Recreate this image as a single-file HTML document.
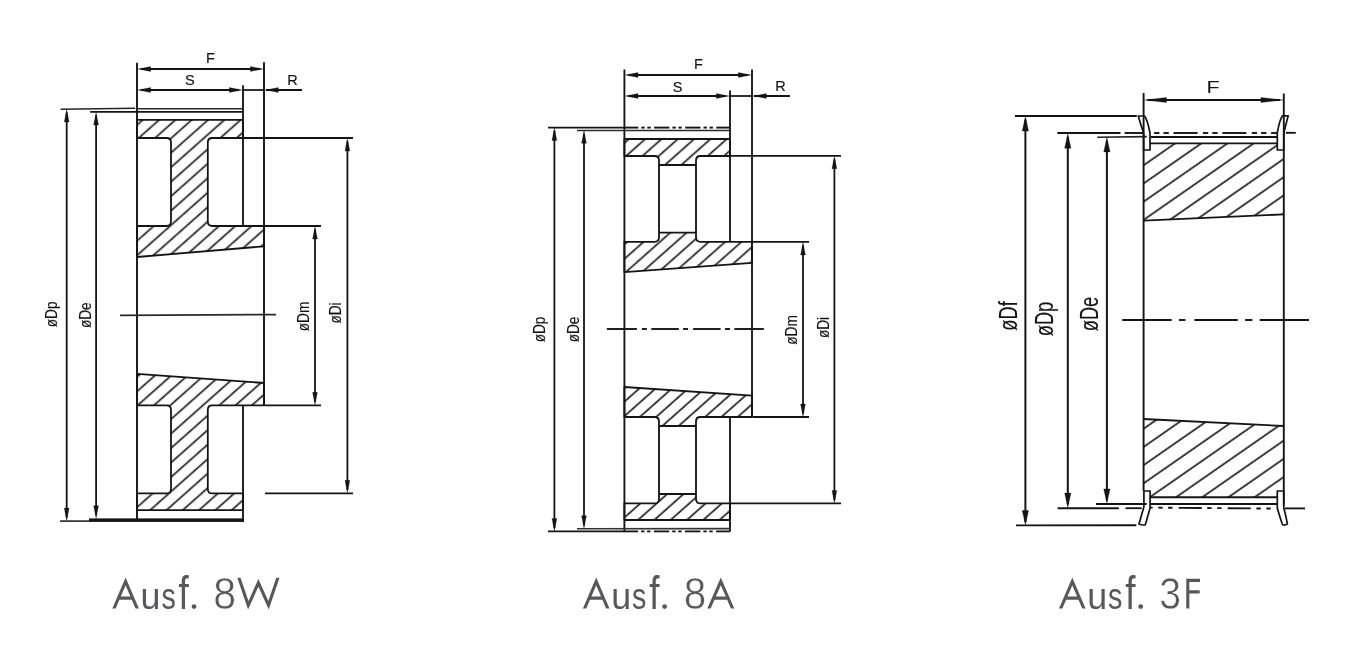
<!DOCTYPE html>
<html><head><meta charset="utf-8"><title>Ausf. 8W / 8A / 3F</title><style>
html,body{margin:0;padding:0;background:#fff;}
body{width:1361px;height:650px;overflow:hidden;}
svg{display:block;font-family:"Liberation Sans",sans-serif;will-change:transform;}
</style></head><body>
<svg width="1361" height="650" viewBox="0 0 1361 650">
<defs>
<pattern id="h1u" patternUnits="userSpaceOnUse" width="10.83" height="10.83" patternTransform="rotate(48.4)"><line x1="-10.43" y1="-10" x2="-10.43" y2="20.83" stroke="#181818" stroke-width="1.65"/><line x1="0.4" y1="-10" x2="0.4" y2="20.83" stroke="#181818" stroke-width="1.65"/><line x1="11.23" y1="-10" x2="11.23" y2="20.83" stroke="#181818" stroke-width="1.65"/></pattern>
<pattern id="h1l" patternUnits="userSpaceOnUse" width="10.83" height="10.83" patternTransform="rotate(48.4)"><line x1="-6.23" y1="-10" x2="-6.23" y2="20.83" stroke="#181818" stroke-width="1.65"/><line x1="4.6" y1="-10" x2="4.6" y2="20.83" stroke="#181818" stroke-width="1.65"/><line x1="15.43" y1="-10" x2="15.43" y2="20.83" stroke="#181818" stroke-width="1.65"/></pattern>
<pattern id="h2u" patternUnits="userSpaceOnUse" width="10.83" height="10.83" patternTransform="rotate(48.4)"><line x1="-9.18" y1="-10" x2="-9.18" y2="20.83" stroke="#181818" stroke-width="1.65"/><line x1="1.65" y1="-10" x2="1.65" y2="20.83" stroke="#181818" stroke-width="1.65"/><line x1="12.48" y1="-10" x2="12.48" y2="20.83" stroke="#181818" stroke-width="1.65"/></pattern>
<pattern id="h2l" patternUnits="userSpaceOnUse" width="10.83" height="10.83" patternTransform="rotate(48.4)"><line x1="-10.61" y1="-10" x2="-10.61" y2="20.83" stroke="#181818" stroke-width="1.65"/><line x1="0.22" y1="-10" x2="0.22" y2="20.83" stroke="#181818" stroke-width="1.65"/><line x1="11.05" y1="-10" x2="11.05" y2="20.83" stroke="#181818" stroke-width="1.65"/></pattern>
<pattern id="h3u" patternUnits="userSpaceOnUse" width="14.95" height="14.95" patternTransform="rotate(55.2)"><line x1="-3.95" y1="-10" x2="-3.95" y2="24.95" stroke="#181818" stroke-width="1.65"/><line x1="11" y1="-10" x2="11" y2="24.95" stroke="#181818" stroke-width="1.65"/><line x1="25.95" y1="-10" x2="25.95" y2="24.95" stroke="#181818" stroke-width="1.65"/></pattern>
<pattern id="h3l" patternUnits="userSpaceOnUse" width="14.95" height="14.95" patternTransform="rotate(55.2)"><line x1="-11.85" y1="-10" x2="-11.85" y2="24.95" stroke="#181818" stroke-width="1.65"/><line x1="3.1" y1="-10" x2="3.1" y2="24.95" stroke="#181818" stroke-width="1.65"/><line x1="18.05" y1="-10" x2="18.05" y2="24.95" stroke="#181818" stroke-width="1.65"/></pattern>
</defs>
<rect width="1361" height="650" fill="#fff"/>
<path d="M137,119.8 L243,119.8 L243,138 L212.3,138 Q207.8,138 207.8,142.5 L207.8,221.5 Q207.8,226 212.3,226 L264,226 L264,246.3 L137,257 L137,226 L166.5,226 Q171,226 171,221.5 L171,142.5 Q171,138 166.5,138 L137,138 Z" fill="url(#h1u)" stroke="none"/>
<path d="M137,119.8 L243,119.8 L243,138 L212.3,138 Q207.8,138 207.8,142.5 L207.8,221.5 Q207.8,226 212.3,226 L264,226 L264,246.3 L137,257 L137,226 L166.5,226 Q171,226 171,221.5 L171,142.5 Q171,138 166.5,138 L137,138 Z" fill="none" stroke="#141414" stroke-width="1.8" stroke-linejoin="round"/>
<path d="M137,373.8 L264,383 L264,405.4 L212.3,405.4 Q207.8,405.4 207.8,409.9 L207.8,488.9 Q207.8,493.4 212.3,493.4 L243,493.4 L243,510.2 L137,510.2 L137,493.4 L166.5,493.4 Q171,493.4 171,488.9 L171,409.9 Q171,405.4 166.5,405.4 L137,405.4 Z" fill="url(#h1l)" stroke="none"/>
<path d="M137,373.8 L264,383 L264,405.4 L212.3,405.4 Q207.8,405.4 207.8,409.9 L207.8,488.9 Q207.8,493.4 212.3,493.4 L243,493.4 L243,510.2 L137,510.2 L137,493.4 L166.5,493.4 Q171,493.4 171,488.9 L171,409.9 Q171,405.4 166.5,405.4 L137,405.4 Z" fill="none" stroke="#141414" stroke-width="1.8" stroke-linejoin="round"/>
<line x1="137" y1="62.8" x2="137" y2="520.5" stroke="#141414" stroke-width="1.9"/>
<line x1="264" y1="62.3" x2="264" y2="405.4" stroke="#141414" stroke-width="1.9"/>
<line x1="243" y1="85.3" x2="243" y2="226" stroke="#141414" stroke-width="1.85"/>
<line x1="243" y1="405.4" x2="243" y2="522" stroke="#141414" stroke-width="1.85"/>
<line x1="60.5" y1="109.3" x2="135.2" y2="108.3" stroke="#262626" stroke-width="1.5"/>
<line x1="137.5" y1="108.7" x2="243" y2="108.7" stroke="#2a2a2a" stroke-width="1.4"/>
<line x1="90.2" y1="111.9" x2="243" y2="111.9" stroke="#141414" stroke-width="1.8"/>
<line x1="60" y1="521.1" x2="90" y2="521.1" stroke="#141414" stroke-width="1.5"/>
<rect x="89" y="518.4" width="154.9" height="3.5" fill="#141414"/>
<line x1="243" y1="138" x2="353" y2="138" stroke="#141414" stroke-width="1.8"/>
<line x1="264" y1="226" x2="321" y2="226" stroke="#141414" stroke-width="1.8"/>
<line x1="265" y1="405.4" x2="321" y2="405.4" stroke="#141414" stroke-width="1.8"/>
<line x1="265" y1="493.4" x2="353" y2="493.4" stroke="#141414" stroke-width="1.8"/>
<line x1="120" y1="315.4" x2="276" y2="314.6" stroke="#2a2a2a" stroke-width="1.8"/>
<line x1="66.7" y1="112.6" x2="66.7" y2="517.6" stroke="#141414" stroke-width="1.8"/>
<polygon points="66.7,109.6 69.1,122.1 64.3,122.1" fill="#141414" stroke="#141414" stroke-width="0.3"/>
<polygon points="66.7,520.6 64.3,508.1 69.1,508.1" fill="#141414" stroke="#141414" stroke-width="0.3"/>
<line x1="96.1" y1="115.4" x2="96.1" y2="515.2" stroke="#141414" stroke-width="1.8"/>
<polygon points="96.1,112.4 98.5,124.9 93.7,124.9" fill="#141414" stroke="#141414" stroke-width="0.3"/>
<polygon points="96.1,518.2 93.7,505.7 98.5,505.7" fill="#141414" stroke="#141414" stroke-width="0.3"/>
<line x1="315" y1="229.6" x2="315" y2="401.8" stroke="#141414" stroke-width="1.8"/>
<polygon points="315,226.6 317.4,239.1 312.6,239.1" fill="#141414" stroke="#141414" stroke-width="0.3"/>
<polygon points="315,404.8 312.6,392.3 317.4,392.3" fill="#141414" stroke="#141414" stroke-width="0.3"/>
<line x1="347.4" y1="141.6" x2="347.4" y2="489.8" stroke="#141414" stroke-width="1.8"/>
<polygon points="347.4,138.6 349.8,151.1 345,151.1" fill="#141414" stroke="#141414" stroke-width="0.3"/>
<polygon points="347.4,492.8 345,480.3 349.8,480.3" fill="#141414" stroke="#141414" stroke-width="0.3"/>
<line x1="141.1" y1="69" x2="259.9" y2="69" stroke="#141414" stroke-width="1.8"/>
<polygon points="138.1,69 150.6,66.6 150.6,71.4" fill="#141414" stroke="#141414" stroke-width="0.3"/>
<polygon points="262.9,69 250.4,71.4 250.4,66.6" fill="#141414" stroke="#141414" stroke-width="0.3"/>
<line x1="141.1" y1="90" x2="238.9" y2="90" stroke="#141414" stroke-width="1.8"/>
<polygon points="138.1,90 150.6,87.6 150.6,92.4" fill="#141414" stroke="#141414" stroke-width="0.3"/>
<polygon points="241.9,90 229.4,92.4 229.4,87.6" fill="#141414" stroke="#141414" stroke-width="0.3"/>
<line x1="243" y1="90" x2="264" y2="90" stroke="#141414" stroke-width="1.75"/>
<line x1="265.8" y1="90" x2="302" y2="90" stroke="#141414" stroke-width="1.85"/>
<polygon points="265.8,90 278.3,87.6 278.3,92.4" fill="#141414" stroke="#141414" stroke-width="0.3"/>
<text transform="translate(210.4 62.8) rotate(0) scale(1.0 1)" font-size="14.5" text-anchor="middle" fill="#141414" stroke="#141414" stroke-width="0.15">F</text>
<text transform="translate(189.8 85.4) rotate(0) scale(1.0 1)" font-size="14.5" text-anchor="middle" fill="#141414" stroke="#141414" stroke-width="0.15">S</text>
<text transform="translate(292.5 85) rotate(0) scale(1.0 1)" font-size="14.5" text-anchor="middle" fill="#141414" stroke="#141414" stroke-width="0.15">R</text>
<text transform="translate(57.2 314.4) rotate(-90) scale(0.85 1)" font-size="16" text-anchor="middle" fill="#141414" stroke="#141414" stroke-width="0.15">&#248;Dp</text>
<text transform="translate(90.5 315.2) rotate(-90) scale(0.85 1)" font-size="16" text-anchor="middle" fill="#141414" stroke="#141414" stroke-width="0.15">&#248;De</text>
<text transform="translate(309 316.5) rotate(-90) scale(0.85 1)" font-size="16" text-anchor="middle" fill="#141414" stroke="#141414" stroke-width="0.15">&#248;Dm</text>
<text transform="translate(340.5 313) rotate(-90) scale(0.85 1)" font-size="16" text-anchor="middle" fill="#141414" stroke="#141414" stroke-width="0.15">&#248;Di</text>
<path d="M624.4,139 L730,139 L730,156 L700.5,156 Q696,156 696,160.5 L696,165 L659,165 L659,160.5 Q659,156 654.5,156 L624.4,156 Z" fill="url(#h2u)" stroke="none"/>
<path d="M624.4,139 L730,139 L730,156 L700.5,156 Q696,156 696,160.5 L696,165 L659,165 L659,160.5 Q659,156 654.5,156 L624.4,156 Z" fill="none" stroke="#141414" stroke-width="1.8" stroke-linejoin="round"/>
<path d="M624.4,241.8 L654.5,241.8 Q659,241.8 659,237.3 L659,232.6 L696,232.6 L696,237.3 Q696,241.8 700.5,241.8 L752,241.8 L752,262.8 L624.4,272.2 Z" fill="url(#h2u)" stroke="none"/>
<path d="M624.4,241.8 L654.5,241.8 Q659,241.8 659,237.3 L659,232.6 L696,232.6 L696,237.3 Q696,241.8 700.5,241.8 L752,241.8 L752,262.8 L624.4,272.2 Z" fill="none" stroke="#141414" stroke-width="1.8" stroke-linejoin="round"/>
<line x1="659" y1="165" x2="659" y2="232.6" stroke="#141414" stroke-width="1.85"/>
<line x1="696" y1="165" x2="696" y2="232.6" stroke="#141414" stroke-width="1.85"/>
<path d="M624.4,387 L752,395.6 L752,417 L700.5,417 Q696,417 696,421.5 L696,426 L659,426 L659,421.5 Q659,417 654.5,417 L624.4,417 Z" fill="url(#h2l)" stroke="none"/>
<path d="M624.4,387 L752,395.6 L752,417 L700.5,417 Q696,417 696,421.5 L696,426 L659,426 L659,421.5 Q659,417 654.5,417 L624.4,417 Z" fill="none" stroke="#141414" stroke-width="1.8" stroke-linejoin="round"/>
<line x1="659" y1="426" x2="659" y2="494" stroke="#141414" stroke-width="1.85"/>
<line x1="696" y1="426" x2="696" y2="494" stroke="#141414" stroke-width="1.85"/>
<path d="M624.4,503.4 L654.5,503.4 Q659,503.4 659,498.9 L659,494 L696,494 L696,498.9 Q696,503.4 700.5,503.4 L730,503.4 L730,520 L624.4,520 Z" fill="url(#h2l)" stroke="none"/>
<path d="M624.4,503.4 L654.5,503.4 Q659,503.4 659,498.9 L659,494 L696,494 L696,498.9 Q696,503.4 700.5,503.4 L730,503.4 L730,520 L624.4,520 Z" fill="none" stroke="#141414" stroke-width="1.8" stroke-linejoin="round"/>
<line x1="624.4" y1="69.6" x2="624.4" y2="531" stroke="#141414" stroke-width="1.85"/>
<line x1="752" y1="69.6" x2="752" y2="417" stroke="#141414" stroke-width="1.85"/>
<line x1="730" y1="90.4" x2="730" y2="241.8" stroke="#141414" stroke-width="1.85"/>
<line x1="730" y1="417" x2="730" y2="531.5" stroke="#141414" stroke-width="1.85"/>
<line x1="548" y1="127.6" x2="623" y2="127.6" stroke="#141414" stroke-width="1.9"/>
<line x1="623" y1="127.6" x2="638.3" y2="127.6" stroke="#141414" stroke-width="1.9"/>
<line x1="641.3" y1="127.6" x2="644.7" y2="127.6" stroke="#141414" stroke-width="1.9"/>
<line x1="647.3" y1="127.6" x2="650.7" y2="127.6" stroke="#141414" stroke-width="1.9"/>
<line x1="654.1" y1="127.6" x2="669.4" y2="127.6" stroke="#141414" stroke-width="1.9"/>
<line x1="672.4" y1="127.6" x2="675.8" y2="127.6" stroke="#141414" stroke-width="1.9"/>
<line x1="678.4" y1="127.6" x2="681.8" y2="127.6" stroke="#141414" stroke-width="1.9"/>
<line x1="685.2" y1="127.6" x2="700.5" y2="127.6" stroke="#141414" stroke-width="1.9"/>
<line x1="703.5" y1="127.6" x2="706.9" y2="127.6" stroke="#141414" stroke-width="1.9"/>
<line x1="709.5" y1="127.6" x2="712.9" y2="127.6" stroke="#141414" stroke-width="1.9"/>
<line x1="716.3" y1="127.6" x2="730" y2="127.6" stroke="#141414" stroke-width="1.9"/>
<line x1="577" y1="130.5" x2="730" y2="130.5" stroke="#2a2a2a" stroke-width="1.5"/>
<line x1="548" y1="531.4" x2="623" y2="531.4" stroke="#141414" stroke-width="1.8"/>
<line x1="622.8" y1="531.4" x2="638.1" y2="531.4" stroke="#141414" stroke-width="1.8"/>
<line x1="641.1" y1="531.4" x2="644.5" y2="531.4" stroke="#141414" stroke-width="1.8"/>
<line x1="647.1" y1="531.4" x2="650.5" y2="531.4" stroke="#141414" stroke-width="1.8"/>
<line x1="653.9" y1="531.4" x2="669.2" y2="531.4" stroke="#141414" stroke-width="1.8"/>
<line x1="672.2" y1="531.4" x2="675.6" y2="531.4" stroke="#141414" stroke-width="1.8"/>
<line x1="678.2" y1="531.4" x2="681.6" y2="531.4" stroke="#141414" stroke-width="1.8"/>
<line x1="685" y1="531.4" x2="700.3" y2="531.4" stroke="#141414" stroke-width="1.8"/>
<line x1="703.3" y1="531.4" x2="706.7" y2="531.4" stroke="#141414" stroke-width="1.8"/>
<line x1="709.3" y1="531.4" x2="712.7" y2="531.4" stroke="#141414" stroke-width="1.8"/>
<line x1="716.1" y1="531.4" x2="730" y2="531.4" stroke="#141414" stroke-width="1.8"/>
<line x1="577" y1="528.8" x2="730" y2="528.6" stroke="#333" stroke-width="1.6"/>
<line x1="730" y1="155.8" x2="841" y2="155.8" stroke="#141414" stroke-width="1.8"/>
<line x1="752" y1="241.9" x2="809" y2="241.9" stroke="#141414" stroke-width="1.8"/>
<line x1="753" y1="417" x2="809" y2="417" stroke="#141414" stroke-width="1.8"/>
<line x1="731" y1="503.4" x2="841" y2="503.4" stroke="#141414" stroke-width="1.8"/>
<line x1="606.9" y1="329" x2="636.9" y2="329" stroke="#141414" stroke-width="1.9"/>
<line x1="641.9" y1="329" x2="646.9" y2="329" stroke="#141414" stroke-width="1.9"/>
<line x1="651.3" y1="329" x2="678.8" y2="329" stroke="#141414" stroke-width="1.9"/>
<line x1="683.1" y1="329" x2="688.1" y2="329" stroke="#141414" stroke-width="1.9"/>
<line x1="693.1" y1="329" x2="720.6" y2="329" stroke="#141414" stroke-width="1.9"/>
<line x1="725" y1="329" x2="730" y2="329" stroke="#141414" stroke-width="1.9"/>
<line x1="734.4" y1="329" x2="763.8" y2="329" stroke="#141414" stroke-width="1.9"/>
<line x1="554.4" y1="131" x2="554.4" y2="528" stroke="#141414" stroke-width="1.8"/>
<polygon points="554.4,128 556.8,140.5 552,140.5" fill="#141414" stroke="#141414" stroke-width="0.3"/>
<polygon points="554.4,531 552,518.5 556.8,518.5" fill="#141414" stroke="#141414" stroke-width="0.3"/>
<line x1="584" y1="133.8" x2="584" y2="525.2" stroke="#141414" stroke-width="1.8"/>
<polygon points="584,130.8 586.4,143.3 581.6,143.3" fill="#141414" stroke="#141414" stroke-width="0.3"/>
<polygon points="584,528.2 581.6,515.7 586.4,515.7" fill="#141414" stroke="#141414" stroke-width="0.3"/>
<line x1="803" y1="245.4" x2="803" y2="413.6" stroke="#141414" stroke-width="1.8"/>
<polygon points="803,242.4 805.4,254.9 800.6,254.9" fill="#141414" stroke="#141414" stroke-width="0.3"/>
<polygon points="803,416.6 800.6,404.1 805.4,404.1" fill="#141414" stroke="#141414" stroke-width="0.3"/>
<line x1="834.4" y1="159.2" x2="834.4" y2="500" stroke="#141414" stroke-width="1.8"/>
<polygon points="834.4,156.2 836.8,168.7 832,168.7" fill="#141414" stroke="#141414" stroke-width="0.3"/>
<polygon points="834.4,503 832,490.5 836.8,490.5" fill="#141414" stroke="#141414" stroke-width="0.3"/>
<line x1="628.5" y1="75" x2="747.9" y2="75" stroke="#141414" stroke-width="1.8"/>
<polygon points="625.5,75 638,72.6 638,77.4" fill="#141414" stroke="#141414" stroke-width="0.3"/>
<polygon points="750.9,75 738.4,77.4 738.4,72.6" fill="#141414" stroke="#141414" stroke-width="0.3"/>
<line x1="628.5" y1="96" x2="725.9" y2="96" stroke="#141414" stroke-width="1.8"/>
<polygon points="625.5,96 638,93.6 638,98.4" fill="#141414" stroke="#141414" stroke-width="0.3"/>
<polygon points="728.9,96 716.4,98.4 716.4,93.6" fill="#141414" stroke="#141414" stroke-width="0.3"/>
<line x1="730" y1="96" x2="752" y2="96" stroke="#141414" stroke-width="1.75"/>
<line x1="753.8" y1="96" x2="790" y2="96" stroke="#141414" stroke-width="1.85"/>
<polygon points="753.8,96 766.3,93.6 766.3,98.4" fill="#141414" stroke="#141414" stroke-width="0.3"/>
<text transform="translate(698.4 69.2) rotate(0) scale(1.0 1)" font-size="14.5" text-anchor="middle" fill="#141414" stroke="#141414" stroke-width="0.15">F</text>
<text transform="translate(677.6 91.6) rotate(0) scale(1.0 1)" font-size="14.5" text-anchor="middle" fill="#141414" stroke="#141414" stroke-width="0.15">S</text>
<text transform="translate(780.5 91) rotate(0) scale(1.0 1)" font-size="14.5" text-anchor="middle" fill="#141414" stroke="#141414" stroke-width="0.15">R</text>
<text transform="translate(544.7 329.5) rotate(-90) scale(0.85 1)" font-size="16" text-anchor="middle" fill="#141414" stroke="#141414" stroke-width="0.15">&#248;Dp</text>
<text transform="translate(579 329.5) rotate(-90) scale(0.85 1)" font-size="16" text-anchor="middle" fill="#141414" stroke="#141414" stroke-width="0.15">&#248;De</text>
<text transform="translate(797 330) rotate(-90) scale(0.85 1)" font-size="16" text-anchor="middle" fill="#141414" stroke="#141414" stroke-width="0.15">&#248;Dm</text>
<text transform="translate(828.5 327.5) rotate(-90) scale(0.85 1)" font-size="16" text-anchor="middle" fill="#141414" stroke="#141414" stroke-width="0.15">&#248;Di</text>
<path d="M1150,143.4 L1277.3,143.4 L1277.3,150 L1283.8,150 L1283.8,214.4 L1143.6,220.6 L1143.6,150 L1150,150 Z" fill="url(#h3u)" stroke="none"/>
<line x1="1150" y1="143.4" x2="1277.3" y2="143.4" stroke="#141414" stroke-width="1.85"/>
<line x1="1143.6" y1="220.6" x2="1283.8" y2="214.4" stroke="#141414" stroke-width="1.8"/>
<path d="M1143.6,419 L1283.8,426 L1283.8,491 L1277.3,491 L1277.3,497.2 L1150,497.2 L1150,491 L1143.6,491 Z" fill="url(#h3l)" stroke="none"/>
<line x1="1143.6" y1="419" x2="1283.8" y2="426" stroke="#141414" stroke-width="1.8"/>
<line x1="1150" y1="497.2" x2="1277.3" y2="497.2" stroke="#141414" stroke-width="1.85"/>
<line x1="1143.6" y1="93" x2="1143.6" y2="491" stroke="#141414" stroke-width="1.9"/>
<line x1="1283.8" y1="93.6" x2="1283.8" y2="505" stroke="#141414" stroke-width="1.9"/>
<line x1="1015" y1="116" x2="1136.8" y2="116" stroke="#141414" stroke-width="1.85"/>
<line x1="1057.3" y1="133" x2="1120.5" y2="133" stroke="#141414" stroke-width="1.9"/>
<line x1="1124.6" y1="133" x2="1143.5" y2="133" stroke="#141414" stroke-width="1.9"/>
<line x1="1154.1" y1="133" x2="1159.4" y2="133" stroke="#141414" stroke-width="1.9"/>
<line x1="1163.5" y1="133" x2="1168.8" y2="133" stroke="#141414" stroke-width="1.9"/>
<line x1="1173.5" y1="133" x2="1197.6" y2="133" stroke="#141414" stroke-width="1.9"/>
<line x1="1202.9" y1="133" x2="1208.2" y2="133" stroke="#141414" stroke-width="1.9"/>
<line x1="1212.3" y1="133" x2="1217.6" y2="133" stroke="#141414" stroke-width="1.9"/>
<line x1="1222.3" y1="133" x2="1246.4" y2="133" stroke="#141414" stroke-width="1.9"/>
<line x1="1251.7" y1="133" x2="1257" y2="133" stroke="#141414" stroke-width="1.9"/>
<line x1="1261.1" y1="133" x2="1266.4" y2="133" stroke="#141414" stroke-width="1.9"/>
<line x1="1271.1" y1="133" x2="1277" y2="133" stroke="#141414" stroke-width="1.9"/>
<line x1="1285.8" y1="132.8" x2="1295.8" y2="132.8" stroke="#141414" stroke-width="1.85"/>
<line x1="1097.2" y1="137.2" x2="1146.8" y2="136.6" stroke="#222" stroke-width="1.6"/>
<line x1="1150.8" y1="137" x2="1277.3" y2="137" stroke="#141414" stroke-width="1.85"/>
<line x1="1016" y1="525.4" x2="1136.3" y2="525.2" stroke="#141414" stroke-width="1.85"/>
<line x1="1057.6" y1="508.2" x2="1118.8" y2="508.2" stroke="#141414" stroke-width="1.85"/>
<line x1="1125.5" y1="508.2" x2="1141.7" y2="508.2" stroke="#141414" stroke-width="1.85"/>
<line x1="1150" y1="507.6" x2="1152.6" y2="507.62" stroke="#141414" stroke-width="1.9"/>
<line x1="1158.2" y1="507.66" x2="1162.6" y2="507.7" stroke="#141414" stroke-width="1.9"/>
<line x1="1168.1" y1="507.74" x2="1172.5" y2="507.78" stroke="#141414" stroke-width="1.9"/>
<line x1="1178.6" y1="507.83" x2="1201.7" y2="508.01" stroke="#141414" stroke-width="1.9"/>
<line x1="1207.3" y1="508.05" x2="1211.7" y2="508.09" stroke="#141414" stroke-width="1.9"/>
<line x1="1217.2" y1="508.13" x2="1221.6" y2="508.16" stroke="#141414" stroke-width="1.9"/>
<line x1="1227.7" y1="508.21" x2="1250.8" y2="508.39" stroke="#141414" stroke-width="1.9"/>
<line x1="1256.4" y1="508.44" x2="1260.8" y2="508.47" stroke="#141414" stroke-width="1.9"/>
<line x1="1266.3" y1="508.52" x2="1270.7" y2="508.55" stroke="#141414" stroke-width="1.9"/>
<line x1="1276.8" y1="508.6" x2="1277" y2="508.6" stroke="#141414" stroke-width="1.9"/>
<line x1="1285" y1="508.4" x2="1305" y2="508.4" stroke="#141414" stroke-width="1.85"/>
<line x1="1096" y1="504" x2="1146.7" y2="504" stroke="#141414" stroke-width="1.85"/>
<line x1="1150.8" y1="504" x2="1277.3" y2="504" stroke="#141414" stroke-width="1.85"/>
<line x1="1122.3" y1="320" x2="1171.6" y2="320" stroke="#141414" stroke-width="1.9"/>
<line x1="1178.9" y1="320" x2="1185.5" y2="320" stroke="#141414" stroke-width="1.9"/>
<line x1="1194.4" y1="320" x2="1237.7" y2="320" stroke="#141414" stroke-width="1.9"/>
<line x1="1245.1" y1="320" x2="1252.4" y2="320" stroke="#141414" stroke-width="1.9"/>
<line x1="1259.7" y1="320" x2="1309" y2="320" stroke="#141414" stroke-width="1.9"/>
<path d="M1138.3,116 L1144.6,116 Q1147.5,120 1150,133 L1150,150 L1143.6,150 L1143.6,133 Q1140.5,124 1138.3,116 Z" fill="none" stroke="#141414" stroke-width="1.7" stroke-linejoin="round"/>
<path d="M1288.2,115.8 L1282.3,115.8 Q1279.3,121 1277.3,133 L1277.3,150 L1283.8,150 L1283.8,133 Q1286,124 1288.2,115.8 Z" fill="none" stroke="#141414" stroke-width="1.7" stroke-linejoin="round"/>
<path d="M1143.9,491 L1150.1,491 L1150.1,508 Q1147.5,517 1145.3,524.8 Q1142,525.5 1139,524 Q1141.5,515 1143.9,507 Z" fill="none" stroke="#141414" stroke-width="1.7" stroke-linejoin="round"/>
<path d="M1277.3,491 L1283.8,491 L1283.8,508 Q1286,516 1287.4,524 Q1285,525.5 1282.5,524.8 Q1279.5,516 1277.3,508 Z" fill="none" stroke="#141414" stroke-width="1.7" stroke-linejoin="round"/>
<line x1="1025.4" y1="119.6" x2="1025.4" y2="522" stroke="#141414" stroke-width="2.0"/>
<polygon points="1025.4,116.6 1028.55,131.1 1022.25,131.1" fill="#141414" stroke="#141414" stroke-width="0.3"/>
<polygon points="1025.4,525 1022.25,510.5 1028.55,510.5" fill="#141414" stroke="#141414" stroke-width="0.3"/>
<line x1="1067.8" y1="136.8" x2="1067.8" y2="504.6" stroke="#141414" stroke-width="2.0"/>
<polygon points="1067.8,133.8 1070.95,148.3 1064.65,148.3" fill="#141414" stroke="#141414" stroke-width="0.3"/>
<polygon points="1067.8,507.6 1064.65,493.1 1070.95,493.1" fill="#141414" stroke="#141414" stroke-width="0.3"/>
<line x1="1106.9" y1="140.4" x2="1106.9" y2="500.4" stroke="#141414" stroke-width="2.0"/>
<polygon points="1106.9,137.4 1110.05,151.9 1103.75,151.9" fill="#141414" stroke="#141414" stroke-width="0.3"/>
<polygon points="1106.9,503.4 1103.75,488.9 1110.05,488.9" fill="#141414" stroke="#141414" stroke-width="0.3"/>
<line x1="1147.5" y1="100" x2="1279.9" y2="100" stroke="#141414" stroke-width="2.0"/>
<polygon points="1144.5,100 1166.5,97.4 1166.5,102.6" fill="#141414" stroke="#141414" stroke-width="0.3"/>
<polygon points="1282.9,100 1260.9,102.6 1260.9,97.4" fill="#141414" stroke="#141414" stroke-width="0.3"/>
<text transform="translate(1213 93) rotate(0) scale(1.3 1)" font-size="16.5" text-anchor="middle" fill="#141414">F</text>
<text transform="translate(1016.5 316) rotate(-90) scale(0.72 1)" font-size="25.4" text-anchor="middle" fill="#141414" stroke="#141414" stroke-width="0.15">&#248;Df</text>
<text transform="translate(1053 319) rotate(-90) scale(0.72 1)" font-size="25.4" text-anchor="middle" fill="#141414" stroke="#141414" stroke-width="0.15">&#248;Dp</text>
<text transform="translate(1098 314) rotate(-90) scale(0.72 1)" font-size="25.4" text-anchor="middle" fill="#141414" stroke="#141414" stroke-width="0.15">&#248;De</text>
<clipPath id="gc1"><rect x="109.1" y="574.1" width="33" height="34.5"/></clipPath>
<path d="M113,610.8 L125.6,581.4 L138.2,610.8 M118.42,598.1 L132.78,598.1" fill="none" stroke="#58585b" stroke-width="3.1" stroke-linejoin="miter" stroke-miterlimit="10" clip-path="url(#gc1)"/>
<text transform="translate(140.58 608.94) scale(0.7951 0.8136)" font-size="45.0" fill="#58585b">u</text>
<text transform="translate(161.4 608.95) scale(0.6371 0.8012)" font-size="45.0" fill="#58585b">s</text>
<text transform="translate(178.58 608.6) scale(0.8214 1.0410)" font-size="45.0" fill="#58585b">f</text>
<circle cx="194" cy="606.6" r="2.4" fill="#58585b"/>
<clipPath id="gc2"><rect x="579.7" y="574.1" width="33" height="34.5"/></clipPath>
<path d="M583.6,610.8 L596.2,581.4 L608.8,610.8 M589.02,598.1 L603.38,598.1" fill="none" stroke="#58585b" stroke-width="3.1" stroke-linejoin="miter" stroke-miterlimit="10" clip-path="url(#gc2)"/>
<text transform="translate(611.18 608.94) scale(0.7951 0.8136)" font-size="45.0" fill="#58585b">u</text>
<text transform="translate(632 608.95) scale(0.6371 0.8012)" font-size="45.0" fill="#58585b">s</text>
<text transform="translate(649.18 608.6) scale(0.8214 1.0410)" font-size="45.0" fill="#58585b">f</text>
<circle cx="664.6" cy="606.6" r="2.4" fill="#58585b"/>
<clipPath id="gc3"><rect x="1055.8" y="574.1" width="33" height="34.5"/></clipPath>
<path d="M1059.7,610.8 L1072.3,581.4 L1084.9,610.8 M1065.12,598.1 L1079.48,598.1" fill="none" stroke="#58585b" stroke-width="3.1" stroke-linejoin="miter" stroke-miterlimit="10" clip-path="url(#gc3)"/>
<text transform="translate(1087.28 608.94) scale(0.7951 0.8136)" font-size="45.0" fill="#58585b">u</text>
<text transform="translate(1108.1 608.95) scale(0.6371 0.8012)" font-size="45.0" fill="#58585b">s</text>
<text transform="translate(1125.28 608.6) scale(0.8214 1.0410)" font-size="45.0" fill="#58585b">f</text>
<circle cx="1140.7" cy="606.6" r="2.4" fill="#58585b"/>
<text transform="translate(213.31 608.86) scale(0.9140 1.0012)" font-size="45.0" fill="#58585b" stroke="#fff" stroke-width="0.6">8</text>
<clipPath id="gc4"><rect x="234.1" y="577.8" width="48.6" height="35.1"/></clipPath>
<path d="M238.25,575.8 L248.26,605.3 L258.4,582.8 L268.54,605.3 L278.55,575.8" fill="none" stroke="#58585b" stroke-width="3.1" stroke-linejoin="miter" stroke-miterlimit="10" clip-path="url(#gc4)"/>
<text transform="translate(683.64 608.86) scale(0.8998 1.0012)" font-size="45.0" fill="#58585b" stroke="#fff" stroke-width="0.6">8</text>
<clipPath id="gc5"><rect x="704.1" y="574.1" width="33.4" height="34.5"/></clipPath>
<path d="M708,610.8 L720.8,581.4 L733.6,610.8 M713.49,598.1 L728.11,598.1" fill="none" stroke="#58585b" stroke-width="3.1" stroke-linejoin="miter" stroke-miterlimit="10" clip-path="url(#gc5)"/>
<text transform="translate(1159.31 608.86) scale(0.8718 0.9918)" font-size="45.0" fill="#58585b" stroke="#fff" stroke-width="0.6">3</text>
<path d="M1187.8,608.6 L1187.8,580.35 L1200,580.35 M1187.8,591.9 L1199.7,591.9" fill="none" stroke="#58585b" stroke-width="3.1" stroke-linejoin="miter"/>
</svg>
</body></html>
